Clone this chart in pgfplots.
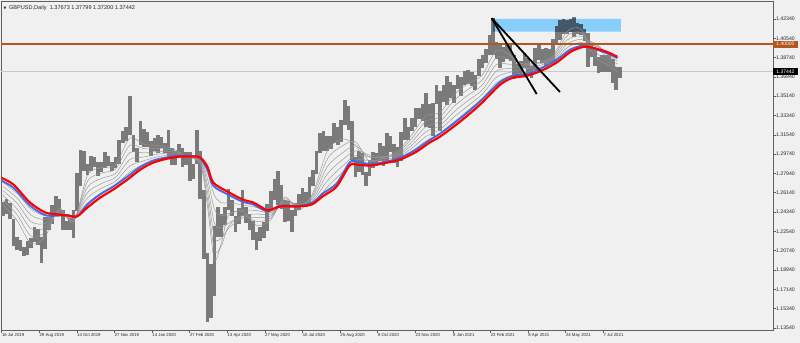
\documentclass[border=0pt]{standalone}
\usepackage{pgfplots}
\pgfplotsset{compat=1.18}
\usepackage{pgfplotstable}
\usepackage{fontspec}
\setmainfont{Liberation Sans}
\newfontfamily\dejavu{DejaVu Sans}

\definecolor{bgc}{RGB}{240,240,240}
\definecolor{framec}{RGB}{95,95,95}
\definecolor{pricec}{RGB}{122,122,122}
\definecolor{pricedark}{RGB}{70,88,104}
\definecolor{mac}{RGB}{150,150,150}
\definecolor{bluec}{RGB}{65,105,225}
\definecolor{redc}{RGB}{255,0,0}
\definecolor{orangec}{RGB}{178,88,30}
\definecolor{levelc}{RGB}{198,202,208}
\definecolor{boxc}{RGB}{135,206,250}

% bar index (3-bar groups), high, low
\pgfplotstableread{
x H L
1 1.2530 1.2395
4 1.2555 1.2420
7 1.2520 1.2370
10 1.2370 1.2120
13 1.2200 1.2080
16 1.2170 1.2070
19 1.2110 1.2020
22 1.2160 1.2035
25 1.2190 1.2100
28 1.2290 1.2150
31 1.2280 1.2130
34 1.2200 1.1959
37 1.2385 1.2090
40 1.2385 1.2270
43 1.2500 1.2320
46 1.2580 1.2420
49 1.2560 1.2400
52 1.2450 1.2270
55 1.2350 1.2270
58 1.2380 1.2270
61 1.2450 1.2196
64 1.2800 1.2440
67 1.3012 1.2680
70 1.3000 1.2820
73 1.2880 1.2780
76 1.2960 1.2820
79 1.2950 1.2850
82 1.2900 1.2770
85 1.2900 1.2810
88 1.2990 1.2840
91 1.2960 1.2860
94 1.2900 1.2820
97 1.2950 1.2840
100 1.3110 1.2880
103 1.3190 1.3080
106 1.3230 1.3100
109 1.3515 1.3150
112 1.3150 1.2990
115 1.3030 1.2905
118 1.3285 1.3060
121 1.3210 1.3040
124 1.3180 1.3040
127 1.3100 1.2960
130 1.3120 1.3000
133 1.3150 1.2980
136 1.3130 1.3030
139 1.3080 1.2980
142 1.3200 1.2960
145 1.3030 1.2870
148 1.3000 1.2870
151 1.3070 1.2960
154 1.3030 1.2850
157 1.2990 1.2870
160 1.2990 1.2725
163 1.2880 1.2740
166 1.3200 1.2880
169 1.3000 1.2560
172 1.2640 1.2000
175 1.2050 1.1409
178 1.1950 1.1450
181 1.2300 1.1650
184 1.2480 1.2200
187 1.2420 1.2200
190 1.2480 1.2310
193 1.2647 1.2450
196 1.2550 1.2400
199 1.2400 1.2250
202 1.2470 1.2320
205 1.2640 1.2400
208 1.2480 1.2330
211 1.2420 1.2270
214 1.2350 1.2170
217 1.2250 1.2076
220 1.2290 1.2160
223 1.2340 1.2190
226 1.2510 1.2260
229 1.2630 1.2450
232 1.2740 1.2550
235 1.2813 1.2500
238 1.2690 1.2460
241 1.2550 1.2340
244 1.2540 1.2350
247 1.2450 1.2252
250 1.2520 1.2400
253 1.2600 1.2450
256 1.2660 1.2480
259 1.2620 1.2480
262 1.2760 1.2500
265 1.2830 1.2680
268 1.3000 1.2790
271 1.3170 1.2980
274 1.3185 1.3000
277 1.3140 1.3000
280 1.3140 1.3020
283 1.3260 1.3080
286 1.3230 1.3060
289 1.3290 1.3090
292 1.3482 1.3250
295 1.3420 1.3200
298 1.3280 1.2920
301 1.2950 1.2760
304 1.3000 1.2810
307 1.2980 1.2780
310 1.2810 1.2676
313 1.2920 1.2770
316 1.2990 1.2840
319 1.2980 1.2860
322 1.3080 1.2910
325 1.3050 1.2860
328 1.3175 1.2900
331 1.3140 1.2990
334 1.3070 1.2890
337 1.3040 1.2855
340 1.3180 1.2910
343 1.3310 1.3110
346 1.3230 1.3110
349 1.3310 1.3190
352 1.3400 1.3230
355 1.3400 1.3300
358 1.3440 1.3280
361 1.3540 1.3230
364 1.3440 1.3220
367 1.3450 1.3140
370 1.3620 1.3440
373 1.3560 1.3190
376 1.3620 1.3460
379 1.3700 1.3430
382 1.3650 1.3500
385 1.3620 1.3450
388 1.3710 1.3580
391 1.3690 1.3520
394 1.3750 1.3620
397 1.3760 1.3630
400 1.3740 1.3610
403 1.3710 1.3570
406 1.3860 1.3700
409 1.3900 1.3780
412 1.3950 1.3820
415 1.4080 1.3900
418 1.4241 1.3900
421 1.4020 1.3860
424 1.3990 1.3780
427 1.3970 1.3830
430 1.4000 1.3860
433 1.4010 1.3840
436 1.3900 1.3670
439 1.3810 1.3680
442 1.3840 1.3700
445 1.3920 1.3780
448 1.3870 1.3710
451 1.3800 1.3680
454 1.3960 1.3760
457 1.4010 1.3850
460 1.3950 1.3820
463 1.3960 1.3800
466 1.3950 1.3820
469 1.4050 1.3820
472 1.4170 1.4000
475 1.4220 1.4040
478 1.4230 1.4090
481 1.4220 1.4090
484 1.4230 1.4110
487 1.4249 1.4070
490 1.4200 1.4090
493 1.4190 1.4080
496 1.4140 1.4030
499 1.4100 1.3790
502 1.4000 1.3880
505 1.3960 1.3800
508 1.3880 1.3730
511 1.3900 1.3740
514 1.3900 1.3740
517 1.3900 1.3740
520 1.3860 1.3640
523 1.3790 1.3571
526 1.3790 1.3680
}\price

\pgfplotstableread{
x y
0 1.2751
10 1.2690
24 1.2523
37 1.2430
48 1.2411
56 1.2402
64 1.2393
73 1.2477
84 1.2570
95 1.2644
107 1.2737
118 1.2830
129 1.2895
141 1.2932
152 1.2951
163 1.2951
169 1.2942
175 1.2858
180 1.2709
192 1.2625
205 1.2551
214 1.2523
220 1.2486
227 1.2449
237 1.2486
251 1.2486
264 1.2505
273 1.2579
285 1.2672
296 1.2867
302 1.2876
313 1.2867
324 1.2886
339 1.2923
353 1.2997
364 1.3081
373 1.3137
390 1.3276
407 1.3435
424 1.3620
435 1.3686
447 1.3704
461 1.3760
473 1.3834
484 1.3927
495 1.3974
503 1.3965
515 1.3927
524 1.3881
}\redma

\pgfplotstableread{
x y
0 1.2725
10 1.2660
24 1.2495
37 1.2405
48 1.2400
56 1.2405
64 1.2393
73 1.2505
84 1.2600
95 1.2672
107 1.2765
118 1.2855
129 1.2915
141 1.2945
152 1.2960
163 1.2955
169 1.2935
175 1.2830
180 1.2680
192 1.2600
205 1.2530
214 1.2505
220 1.2468
227 1.2440
237 1.2495
251 1.2490
264 1.2520
273 1.2605
285 1.2700
296 1.2895
302 1.2905
313 1.2880
324 1.2895
339 1.2940
353 1.3020
364 1.3105
373 1.3165
390 1.3305
407 1.3465
424 1.3645
435 1.3705
447 1.3720
461 1.3785
473 1.3860
484 1.3950
495 1.3985
503 1.3960
515 1.3915
524 1.3870
}\bluema

\pgfplotstableread{
x g1 g2 g3 g4 g5 g6
1 1.2501 1.2546 1.2591 1.2634 1.2673 1.2711
13 1.2356 1.2410 1.2464 1.2516 1.2564 1.2608
25 1.2140 1.2209 1.2279 1.2344 1.2406 1.2463
37 1.2206 1.2247 1.2288 1.2328 1.2364 1.2398
49 1.2470 1.2450 1.2435 1.2425 1.2418 1.2413
61 1.2335 1.2346 1.2358 1.2368 1.2378 1.2387
73 1.2776 1.2721 1.2666 1.2614 1.2565 1.2519
85 1.2847 1.2797 1.2747 1.2700 1.2656 1.2615
97 1.2876 1.2836 1.2796 1.2759 1.2723 1.2691
109 1.3124 1.3056 1.2987 1.2923 1.2863 1.2806
121 1.3065 1.3025 1.2985 1.2947 1.2912 1.2879
133 1.3053 1.3026 1.2999 1.2974 1.2950 1.2928
145 1.3027 1.3011 1.2995 1.2979 1.2965 1.2951
157 1.2955 1.2954 1.2953 1.2953 1.2952 1.2952
169 1.2878 1.2889 1.2901 1.2913 1.2923 1.2933
175 1.2499 1.2565 1.2632 1.2694 1.2753 1.2807
181 1.1990 1.2080 1.2200 1.2330 1.2460 1.2590
187 1.2150 1.2120 1.2190 1.2290 1.2400 1.2520
193 1.2400 1.2300 1.2280 1.2330 1.2420 1.2520
205 1.2440 1.2400 1.2380 1.2400 1.2450 1.2500
217 1.2310 1.2346 1.2382 1.2416 1.2448 1.2477
229 1.2362 1.2379 1.2397 1.2413 1.2428 1.2443
241 1.2573 1.2557 1.2541 1.2526 1.2512 1.2498
253 1.2450 1.2480 1.2500 1.2505 1.2500 1.2495
265 1.2617 1.2598 1.2579 1.2560 1.2544 1.2528
277 1.2999 1.2927 1.2855 1.2788 1.2724 1.2665
289 1.3114 1.3045 1.2977 1.2912 1.2852 1.2795
301 1.3060 1.3090 1.3050 1.3005 1.2960 1.2915
313 1.2855 1.2905 1.2945 1.2965 1.2950 1.2915
325 1.2940 1.2945 1.2950 1.2950 1.2935 1.2910
337 1.3000 1.2985 1.2970 1.2960 1.2945 1.2930
349 1.3154 1.3121 1.3088 1.3057 1.3028 1.3001
361 1.3329 1.3279 1.3229 1.3182 1.3138 1.3096
373 1.3363 1.3322 1.3280 1.3240 1.3203 1.3169
385 1.3528 1.3474 1.3420 1.3369 1.3321 1.3276
397 1.3633 1.3579 1.3525 1.3474 1.3427 1.3382
409 1.3712 1.3665 1.3618 1.3573 1.3532 1.3493
421 1.3940 1.3875 1.3810 1.3748 1.3691 1.3637
433 1.3891 1.3851 1.3811 1.3773 1.3738 1.3705
445 1.3780 1.3810 1.3820 1.3800 1.3770 1.3735
457 1.3830 1.3825 1.3815 1.3800 1.3780 1.3760
469 1.3889 1.3874 1.3859 1.3846 1.3832 1.3820
481 1.4115 1.4075 1.4036 1.3999 1.3964 1.3932
493 1.4138 1.4106 1.4074 1.4044 1.4016 1.3989
505 1.3880 1.3930 1.3980 1.4005 1.4000 1.3985
517 1.3800 1.3830 1.3860 1.3885 1.3900 1.3910
524 1.3740 1.3780 1.3815 1.3845 1.3862 1.3872
}\grayma

\begin{document}
\begin{tikzpicture}
\fill[bgc] (-1bp,-13bp) rectangle (799bp,330bp);
\begin{axis}[
  at={(0,0)}, anchor=south west,
  scale only axis, width=772bp, height=328.3bp,
  xmin=-0.6, xmax=656.4, ymin=1.1334, ymax=1.4395,
  clip=false,
  axis line style={draw=framec, line width=0.8bp},
  xtick={0,32,64,96,128,160,192,224,256,288,320,352,384,416,448,480,512},
  xticklabels={16 Jul 2019,29 Aug 2019,14 Oct 2019,27 Nov 2019,14 Jan 2020,27 Feb 2020,13 Apr 2020,27 May 2020,10 Jul 2020,25 Aug 2020,8 Oct 2020,23 Nov 2020,8 Jan 2021,23 Feb 2021,8 Apr 2021,24 May 2021,7 Jul 2021},
  ytick={1.1354,1.1534,1.1714,1.1894,1.2074,1.2254,1.2434,1.2614,1.2794,1.2974,1.3154,1.3334,1.3514,1.3694,1.3874,1.4054,1.4234},
  yticklabels={1.13540,1.15340,1.17140,1.18940,1.20740,1.22540,1.24340,1.26140,1.27940,1.29740,1.31540,1.33340,1.35140,1.36940,1.38740,1.40540,1.42340},
  xtick pos=bottom, ytick pos=right, yticklabel pos=right,
  tick align=outside, major tick length=2.5bp,
  tick style={draw=framec, line width=0.5bp},
  x tick label style={anchor=north west, font=\fontsize{4.3}{5}\selectfont, inner sep=0.4bp, xshift=-0.3bp, text=black!85},
  y tick label style={anchor=west, font=\fontsize{5.2}{6}\selectfont, inner sep=0.4bp, text=black!85},
]
% rectangle zone
\addplot[fill=boxc, draw=none] coordinates {(418,1.4116) (527,1.4116) (527,1.4234) (418,1.4234) (418,1.4116)};
% bid level line
\addplot[levelc, line width=1.2bp] coordinates {(-0.6,1.37442) (656.4,1.37442)};
% price bars (high-low ranges)
\addplot[draw=none, mark=none, forget plot,
  error bars/.cd, y dir=plus, y explicit, error mark=none,
  error bar style={line width=3.6bp, draw=pricec}]
  table[x=x, y=L, y error plus expr={\thisrow{H}-\thisrow{L}}] {\price};
% bars seen through the zone are darker
\begin{scope}
\clip (axis cs:418,1.4116) rectangle (axis cs:527,1.4234);
\addplot[draw=none, mark=none, forget plot,
  error bars/.cd, y dir=plus, y explicit, error mark=none,
  error bar style={line width=3.6bp, draw=pricedark}]
  table[x=x, y=L, y error plus expr={\thisrow{H}-\thisrow{L}}] {\price};
\end{scope}
% ribbon of moving averages
\addplot[mac, line width=0.45bp, smooth] table[x=x,y=g1] {\grayma};
\addplot[mac, line width=0.45bp, smooth] table[x=x,y=g2] {\grayma};
\addplot[mac, line width=0.45bp, smooth] table[x=x,y=g3] {\grayma};
\addplot[mac, line width=0.45bp, smooth] table[x=x,y=g4] {\grayma};
\addplot[mac, line width=0.45bp, smooth] table[x=x,y=g5] {\grayma};
\addplot[mac, line width=0.45bp, smooth] table[x=x,y=g6] {\grayma};
\addplot[bluec, line width=1.8bp, smooth] table[x=x,y=y] {\bluema};
\addplot[redc, line width=2.2bp, smooth] table[x=x,y=y] {\redma};
% horizontal level 1.40000
\addplot[orangec, line width=1.6bp] coordinates {(-0.6,1.40000) (656.4,1.40000)};
% trend lines
\addplot[black, line width=1.8bp] coordinates {(417,1.4241) (455.3,1.3534)};
\addplot[black, line width=1.8bp] coordinates {(417,1.4241) (475.1,1.3553)};
% price labels
\node[fill=orangec, text=white, inner sep=0pt, minimum width=24.5bp, minimum height=7bp, anchor=west, font=\fontsize{5}{6}\selectfont] at (axis cs:656.4,1.40000) {1.40000};
\node[fill=black, text=white, inner sep=0pt, minimum width=24.5bp, minimum height=7bp, anchor=west, font=\fontsize{5}{6}\selectfont] at (axis cs:656.4,1.37442) {1.37442};
% title
\node[anchor=north west, inner sep=0pt, font=\fontsize{5.6}{6.5}\selectfont, text=black!85] at ([xshift=2.5bp,yshift=-3.2bp]rel axis cs:0,1) {{\dejavu\fontsize{3.6}{4}\selectfont ▼}\hspace{2.6bp}GBPUSD,Daily\hspace{3.2bp}1.37673 1.37799 1.37200 1.37442};
\end{axis}
\pgfresetboundingbox
\useasboundingbox (-1bp,-13bp) rectangle (799bp,330bp);
\end{tikzpicture}
\end{document}
